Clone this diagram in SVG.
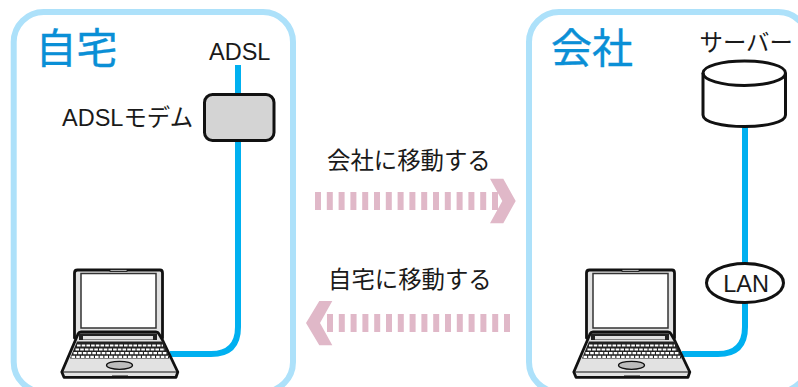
<svg xmlns="http://www.w3.org/2000/svg" xmlns:xlink="http://www.w3.org/1999/xlink" width="798" height="387" viewBox="0 0 798 387">
<style>
text{font-family:"Liberation Sans","Noto Sans CJK JP",sans-serif;fill:#1a1a1a;font-size:23.500px}
.jp{font-family:"Noto Sans CJK JP","Liberation Sans",sans-serif;font-size:23.400px}
.title{font-family:"Noto Sans CJK JP",sans-serif;font-size:41px;fill:#0a8fd6;stroke:#0a8fd6;stroke-width:.4}
.panel{fill:#fff;stroke:#ade1fa;stroke-width:6}
.cable{fill:none;stroke:#00b0f0;stroke-width:6}
.dash{fill:none;stroke:#e0b8c8;stroke-width:18;stroke-dasharray:6 5.8}
.chev{fill:#e0b8c8}
.ol{stroke:#111;stroke-width:3;stroke-linejoin:round}
.lid{fill:#e2e2e2;stroke:#111;stroke-width:2.800;stroke-linejoin:round}
.key{fill:none;stroke:#fff;stroke-width:2.200;stroke-dasharray:3.600 1.100}
</style>
<defs>
<g id="laptop">
<path class="lid" d="M74.500 338V273Q74.500 270 77.500 270H160Q162.500 270 162.500 273V338Z"/>
<rect x="81" y="273.500" width="75" height="54.500" fill="#fff" stroke="#333" stroke-width="1.500"/>
<rect x="110" y="269.500" width="17" height="2" fill="#aaa" stroke="#111" stroke-width=".8"/>
<path class="lid" d="M75.500 340L78 334Q79 332 81 332H156Q158 332 159 334L162.500 340L177.800 372L176 377.300H64L61.800 372Z"/>
<rect x="79" y="333.500" width="78" height="6.500" fill="#222"/>
<rect x="83" y="336" width="70" height="3.500" fill="#e2e2e2"/>
<path d="M77 341.500H163.500L169.500 358.500H70Z" fill="#222"/>
<line class="key" x1="77" x2="163" y1="345.500" y2="345.500"/>
<line class="key" x1="75.500" x2="165" y1="349.500" y2="349.500"/>
<line class="key" x1="73.500" x2="166.500" y1="353.200" y2="353.200"/>
<line class="key" x1="71.500" x2="168" y1="356.800" y2="356.800"/>
<ellipse cx="119.500" cy="365.300" rx="13" ry="4" fill="#bdbdbd" stroke="#111" stroke-width="1.300"/>
<line x1="62" x2="178" y1="372" y2="372" stroke="#111" stroke-width="1.200"/>
<rect x="112" y="375.500" width="16" height="1.800" fill="#111"/>
</g>
</defs>
<g id="home-panel"><rect class="panel" x="13.700" y="12" width="279.300" height="380" rx="30"/><text class="title" x="35.500" y="63">自宅</text></g>
<g id="office-panel"><rect class="panel" x="529" y="12" width="279.300" height="380" rx="30"/><text class="title" x="551" y="63">会社</text></g>
<g id="connectors">
<path class="cable" d="M238 65V94M238 141V327Q238 354 211 354H170"/>
<path class="cable" d="M745 126V263M745 303V327Q745 354 718 354H682"/>
</g>
<g id="adsl-label"><text x="209" y="60">ADSL</text></g>
<g id="modem"><rect x="204.500" y="94.500" width="69.500" height="46" rx="8" fill="#d4d4d4" class="ol"/><text x="62" y="126">ADSL<tspan class="jp">モデム</tspan></text></g>
<g id="server"><path class="ol" fill="#fff" d="M703 73V115C703 122 722 126.500 744.500 126.500S785.500 122 785.500 115V73C785.500 66 767 61 744.500 61S703 66 703 73Z"/><path class="ol" fill="none" d="M703 73C703 80 722 85.500 744.500 85.500S785.500 80 785.500 73"/><text class="jp" x="699.500" y="50.500">サーバー</text></g>
<g id="lan"><ellipse class="ol" cx="745" cy="283" rx="38.500" ry="19.500" fill="#fff"/><text x="746" y="292" text-anchor="middle">LAN</text></g>
<g id="laptop-home"><use href="#laptop" xlink:href="#laptop"/></g>
<g id="laptop-office"><use href="#laptop" xlink:href="#laptop" x="512"/></g>
<g id="to-office"><text class="jp" x="327" y="169">会社に移動する</text><line class="dash" x1="315" x2="498" y1="201" y2="201"/><polygon class="chev" points="490,178.700 503.300,178.700 515.700,201 503.300,223.300 490,223.300 502.300,201"/></g>
<g id="to-home"><text class="jp" x="328" y="288">自宅に移動する</text><line class="dash" x1="510" x2="327" y1="323" y2="323"/><polygon class="chev" points="332.300,301 319.300,301 306,323 319.300,345.300 332.300,345.300 320,323"/></g>
</svg>
